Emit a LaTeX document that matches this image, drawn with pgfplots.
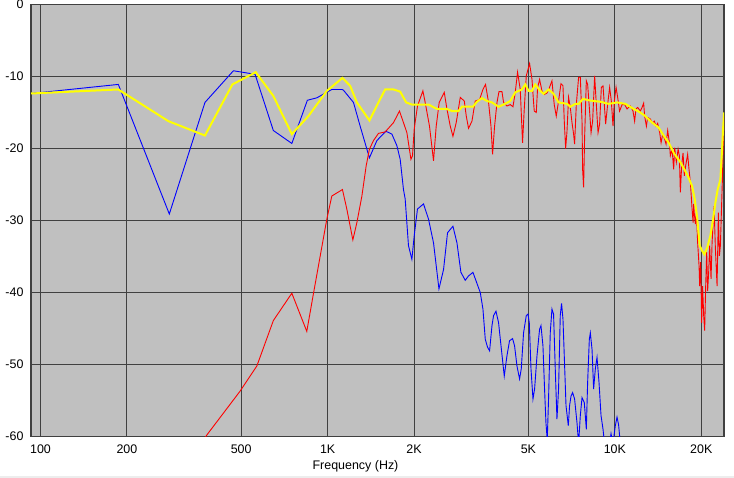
\documentclass[border=0pt]{standalone}
\usepackage{pgfplots}
\pgfplotsset{compat=1.18}
\usepackage{fontspec}
\setmainfont{Liberation Sans}
\definecolor{bg}{RGB}{192,192,192}
\definecolor{gridc}{RGB}{64,64,64}
\definecolor{yel}{RGB}{255,255,0}
\begin{document}
\begin{tikzpicture}
\path[use as bounding box] (-31bp,-41.5bp) rectangle (703bp,436.5bp);
\fill[black!7] (-31bp,-41.5bp) rectangle (703bp,-39.5bp);
\begin{axis}[
  at={(0,0)}, anchor=south west,
  width=693bp, height=432bp, scale only axis,
  xmode=log, xmin=92.7, xmax=24000,
  ymin=-60, ymax=0,
  axis background/.style={fill=bg},
  axis line style={gridc, line width=1.3bp},
  grid=major,
  major grid style={gridc, line width=1bp},
  major tick length=0pt, minor tick num=0,
  xtick={100,200,500,1000,2000,5000,10000,20000},
  xticklabels={100,200,500,1K,2K,5K,10K,20K},
  ytick={-60,-50,-40,-30,-20,-10,0},
  yticklabels={-60,-50,-40,-30,-20,-10,0},
  font=\fontsize{12.5}{14}\selectfont,
  xticklabel style={anchor=base, yshift=-16.6bp},
  yticklabel style={anchor=east, xshift=-4bp},
  xlabel={Frequency (Hz)},
  xlabel style={at={(axis description cs:0.5,0)}, anchor=base, xshift=-22bp, yshift=-32.6bp},
  clip=true,
]
% blue
\addplot[blue, line width=0.9bp] coordinates {
(92.7,-12.36) (186.7,-11.1) (281,-29.1) (374,-13.6) (469.8,-9.2) (559,-9.7)
(647,-17.5) (750.6,-19.3) (850,-13.3) (917,-12.96) (1034,-11.8) (1121,-11.8)
(1135,-11.9) (1230,-13.6) (1298,-16.9) (1398,-21.3) (1484,-18.9) (1595,-17.6)
(1674,-18.0) (1742,-19.6) (1789,-21.5) (1837,-25.7) (1862,-27.0) (1912,-33.5)
(1965,-35.4) (2002,-32.1) (2055,-28.4) (2157,-27.7) (2245,-29.8) (2337,-33.1)
(2441,-39.5) (2533,-36.8) (2615,-31.7) (2731,-30.8) (2820,-33.1) (2911,-37.2)
(3014,-38.3) (3095,-37.7) (3206,-37.2) (3400,-40.0) (3474,-42.3) (3539,-46.5)
(3605,-47.6) (3664,-48.1) (3735,-44.6) (3783,-43.2) (3857,-42.6) (3938,-44.2)
(4015,-47.4) (4121,-51.6) (4211,-48.8) (4299,-46.7) (4405,-46.4) (4476,-47.4)
(4563,-50.2) (4659,-52.0) (4723,-50.6) (4811,-45.6) (4917,-43.2) (4985,-43.0)
(5037,-44.2) (5106,-50.6) (5188,-54.8) (5256,-53.4) (5357,-48.8) (5470,-45.1)
(5532,-44.6) (5620,-47.4) (5693,-53.4) (5757,-58.1) (5817,-60.5) (5878,-54.8)
(5959,-45.6) (6041,-42.3) (6119,-43.0) (6203,-50.6) (6288,-57.6) (6370,-53.4)
(6457,-43.2) (6525,-41.5) (6599,-43.7) (6668,-48.8) (6761,-55.7) (6887,-58.5)
(6959,-55.7) (7038,-54.4) (7129,-53.9) (7244,-54.8) (7385,-58.1) (7481,-61)
(7584,-57.1) (7688,-54.6) (7831,-55.3) (7958,-59.0) (8041,-52.5) (8151,-46.5)
(8217,-45.6) (8330,-47.9) (8437,-53.4) (8554,-50.6) (8670,-49.0) (8810,-52.5)
(8953,-57.1) (9098,-59.0) (9267,-62) (9500,-62) (9700,-59.6) (9850,-61)
(10040,-58.5) (10178,-57.3) (10309,-58.4) (10451,-61)
};
% red
\addplot[red, line width=0.9bp] coordinates {
(368.5,-60.6) (379.5,-59.8) (495.6,-53.7) (567,-50.2) (647,-43.9) (750.6,-40.1)
(846,-45.4) (892,-40.2) (993.6,-29.8) (1034,-26.6) (1126,-25.7) (1166,-28.4)
(1224,-32.7) (1264,-30.3) (1316,-26.6) (1362,-22.4) (1398,-20.1) (1444,-18.9)
(1503,-17.9) (1586,-17.7) (1696,-16.4) (1779,-14.8) (1837,-16.4) (1888,-17.8)
(1950,-21.5) (1975,-21.0) (2002,-17.3) (2055,-14.1) (2146,-12.0) (2186,-13.6)
(2263,-16.9) (2337,-21.7) (2388,-16.9) (2446,-13.6) (2547,-12.2) (2602,-14.5)
(2673,-16.9) (2731,-18.3) (2804,-16.4) (2896,-12.9) (2991,-13.4) (3039,-15.5)
(3095,-17.2) (3181,-16.2) (3266,-13.4) (3380,-13.2) (3474,-11.8) (3547,-11.1)
(3634,-13.6) (3705,-16.9) (3753,-20.8) (3814,-16.9) (3888,-13.6) (3951,-12.1)
(4046,-12.1) (4098,-13.6) (4211,-14.1) (4323,-13.9) (4419,-14.2) (4501,-12.2)
(4585,-9.4) (4685,-11.8) (4772,-19.2) (4838,-14.5) (4917,-9.9) (5049,-8.2)
(5147,-10.4) (5213,-13.6) (5242,-14.8) (5327,-15.0) (5383,-11.6) (5470,-10.4)
(5576,-12.0) (5680,-12.5) (5804,-12.3) (5926,-11.5) (6041,-10.6) (6153,-13.9)
(6253,-15.5) (6370,-13.4) (6493,-11.0) (6599,-11.3) (6668,-16.2) (6741,-20.0)
(6815,-17.6) (6902,-12.9) (6998,-14.3) (7094,-16.4) (7186,-18.0) (7244,-19.4)
(7344,-13.9) (7481,-10.1) (7584,-10.1) (7688,-16.2) (7725,-22.9) (7787,-25.4)
(7850,-18.5) (7958,-10.6) (8041,-11.1) (8151,-14.3) (8265,-17.8) (8370,-16.2)
(8506,-9.9) (8622,-13.9) (8741,-17.8) (8853,-16.6) (8975,-11.5) (9098,-11.3)
(9193,-13.9) (9290,-16.6) (9440,-13.9) (9593,-11.5) (9723,-13.4) (9856,-16.9)
(9961,-13.4) (10100,-11.5) (10230,-12.9) (10390,-14.8) (10600,-13.9) (10820,-13.9)
(11030,-14.5) (11320,-14.1) (11570,-14.8) (11720,-16.2) (11850,-14.5) (12010,-14.3)
(12270,-14.8) (12440,-14.3) (12600,-13.7) (12700,-15.5) (12880,-16.9) (13010,-15.7)
(13300,-15.9) (13510,-16.5) (13730,-16.2) (13920,-16.9) (14100,-16.5) (14330,-17.8)
(14490,-19.2) (14680,-18.0) (14910,-18.7) (15080,-19.4) (15280,-17.5) (15490,-19.2)
(15610,-21.0) (15830,-20.1) (16030,-22.9) (16160,-19.9) (16380,-21.9) (16610,-20.1)
(16780,-21.0) (16910,-26.1) (17090,-22.4) (17280,-20.6) (17460,-23.8) (17650,-22.4)
(17930,-20.8) (18130,-22.9) (18330,-24.7) (18580,-28.4) (18730,-30.3) (18820,-27.7)
(18920,-29.1) (19080,-30.5) (19230,-28.9) (19430,-33.1) (19650,-36.3) (19750,-39.1)
(19910,-35.8) (20060,-44.2) (20220,-39.1) (20390,-43.2) (20550,-45.3) (20720,-39.1)
(20890,-34.4) (21050,-39.8) (21220,-37.2) (21390,-33.5) (21630,-38.1) (21810,-33.1)
(21990,-30.3) (22160,-28.0) (22400,-34.0) (22700,-39.1) (22940,-28.9) (23130,-34.9)
(23310,-33.5) (23500,-28.9) (23690,-24.3) (23880,-19.0) (24010,-15.5)
};
% yellow
\addplot[yel, line width=2bp] coordinates {
(92.7,-12.36) (186.7,-11.8) (278.8,-16.2) (374,-18.2) (466,-11.1) (562,-9.4)
(647,-12.7) (750.6,-18.0) (857,-15.5) (993.6,-12.0) (1126,-10.2) (1198,-11.3)
(1264,-13.6) (1398,-16.1) (1503,-13.6) (1586,-11.8) (1696,-11.8) (1789,-12.1)
(1877,-13.6) (1965,-13.9) (2245,-13.9) (2402,-14.5) (2602,-14.5) (2709,-14.8)
(2856,-14.8) (2935,-14.2) (3206,-14.2) (3311,-13.5) (3446,-13.0) (3588,-13.4)
(3735,-13.6) (3938,-14.2) (4098,-13.9) (4323,-13.4) (4501,-12.2) (4750,-11.8)
(4878,-11.1) (5009,-12.0) (5147,-12.0) (5284,-11.1) (5501,-12.0) (5648,-12.4)
(5878,-11.8) (6119,-12.4) (6370,-13.6) (6815,-13.8) (6998,-14.2) (7286,-13.8)
(7481,-13.8) (7749,-13.1) (8101,-13.3) (8437,-13.4) (8904,-13.5) (9515,-13.8)
(10178,-13.6) (10880,-13.8) (11630,-14.5) (12270,-15.0) (12770,-15.5) (13480,-16.4)
(14210,-17.1) (14790,-18.2) (15400,-19.2) (16030,-20.6) (16910,-21.9) (17850,-23.6)
(18580,-25.2) (18970,-27.0) (19340,-29.5) (19750,-33.5) (20130,-34.2) (20500,-34.7)
(20960,-33.8) (21520,-32.1) (21990,-29.8) (22400,-27.5) (22810,-25.7) (23310,-24.3)
(23630,-20.1) (23820,-17.3) (24010,-15.0)
};
\end{axis}
\end{tikzpicture}
\end{document}
